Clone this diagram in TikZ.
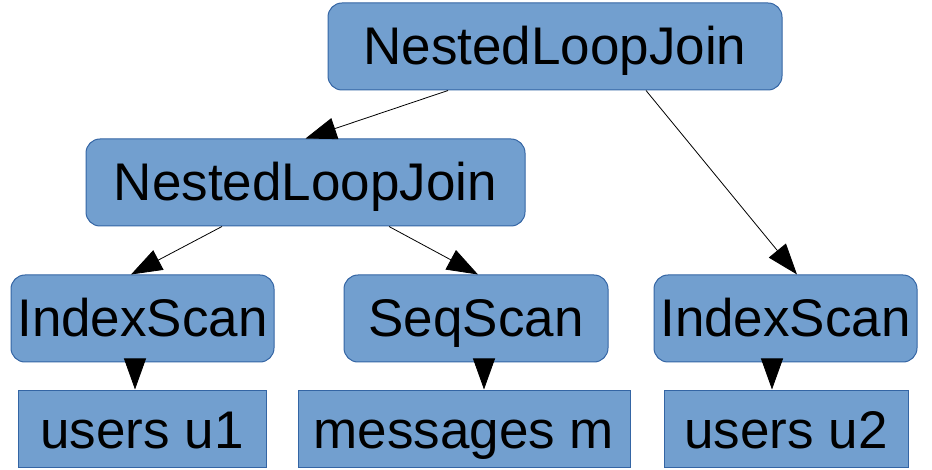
\documentclass[tikz,border=0pt]{standalone}
\usepackage{fontspec}
\setmainfont{Liberation Sans}
\usetikzlibrary{arrows.meta}
\definecolor{boxfill}{HTML}{729FCF}
\definecolor{boxline}{HTML}{3465A4}
\tikzset{
  opbox/.style={draw=boxline, fill=boxfill, line width=1pt, rounded corners=14pt,
    inner sep=0pt, font=\fontsize{53}{60}\selectfont,
    text height=37pt, text depth=0pt, minimum height=87pt},
  relbox/.style={draw=boxline, fill=boxfill, line width=1pt,
    inner sep=0pt, font=\fontsize{53}{60}\selectfont,
    text height=39pt, text depth=0pt, minimum height=77pt},
  flow/.style={line width=0.8pt, -{Triangle[length=31pt,width=22pt]}}
}
\begin{document}
\begin{tikzpicture}[x=1pt,y=-1pt]
\useasboundingbox (0,0) rectangle (932,470);
% plan operators
\node[opbox, minimum width=454pt] (top)  at (555,46.5)  {NestedLoopJoin};
\node[opbox, minimum width=439pt] (nlj)  at (305.5,182.5) {NestedLoopJoin};
\node[opbox, minimum width=263pt] (is1)  at (142.5,318.5) {IndexScan};
\node[opbox, minimum width=264pt] (seq)  at (476,318.5)   {SeqScan};
\node[opbox, minimum width=263pt] (is2)  at (785.5,318.5) {IndexScan};
% base relations
\node[relbox, minimum width=248pt] (u1)  at (142,428.5) {users u1};
\node[relbox, minimum width=332pt] (msg) at (464,428.5) {messages m};
\node[relbox, minimum width=244pt] (u2)  at (786,428.5) {users u2};
% data flow
\draw[flow] ([xshift=-107pt]top.south) -- (nlj.north);
\draw[flow] ([xshift=91pt]top.south) -- ([xshift=11.5pt]is2.north);
\draw[flow] ([xshift=-83.5pt]nlj.south) -- ([xshift=-11.5pt]is1.north);
\draw[flow] ([xshift=83.5pt]nlj.south) -- ([xshift=2pt]seq.north);
\draw[flow] ([xshift=-7.5pt]is1.south) -- ([xshift=-7pt]u1.north);
\draw[flow] ([xshift=8pt]seq.south) -- ([xshift=20pt]msg.north);
\draw[flow] ([xshift=-13.5pt]is2.south) -- ([xshift=-14pt]u2.north);
\end{tikzpicture}
\end{document}
